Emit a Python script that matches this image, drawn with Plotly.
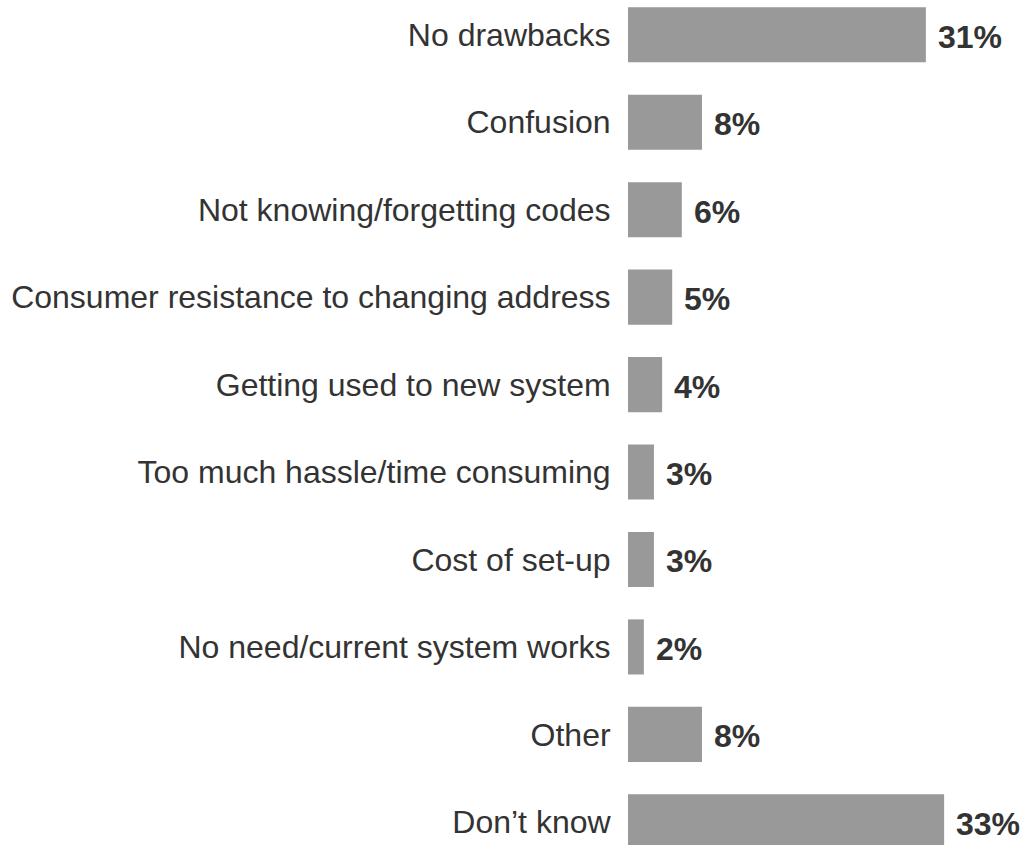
import plotly.graph_objects as go

categories = [
    "No drawbacks",
    "Confusion",
    "Not knowing/forgetting codes",
    "Consumer resistance to changing address",
    "Getting used to new system",
    "Too much hassle/time consuming",
    "Cost of set-up",
    "No need/current system works",
    "Other",
    "Don\u2019t know",
]
values = [31.0, 7.7, 5.6, 4.6, 3.55, 2.7, 2.7, 1.65, 7.7, 32.9]
value_labels = ["31%", "8%", "6%", "5%", "4%", "3%", "3%", "2%", "8%", "33%"]

FONT = "Liberation Sans, Arial, sans-serif"

fig = go.Figure()
fig.add_trace(go.Bar(
    x=values,
    y=categories,
    orientation="h",
    width=0.63,
    marker=dict(color="#999999", line=dict(width=0)),
    hoverinfo="skip",
))

for c, v, lab in zip(categories, values, value_labels):
    fig.add_annotation(
        x=v, y=c, text="<b>" + lab + "</b>",
        showarrow=False, xanchor="left", yanchor="middle",
        xshift=10, yshift=-2,
        font=dict(family=FONT, size=32, color="#333333"),
    )

fig.update_layout(
    width=1021, height=845,
    margin=dict(l=628, r=0, t=0, b=0),
    paper_bgcolor="white", plot_bgcolor="white",
    showlegend=False,
    xaxis=dict(range=[0, 40.9], visible=False, fixedrange=True),
    yaxis=dict(
        type="category",
        categoryorder="array", categoryarray=categories,
        range=[9.265, -0.398],
        showgrid=False, zeroline=False, showline=False,
        ticks="outside", ticklen=10, tickcolor="rgba(0,0,0,0)",
        tickfont=dict(family=FONT, size=32, color="#333333"),
        automargin=False,
    ),
)

fig.write_html("out.html")
